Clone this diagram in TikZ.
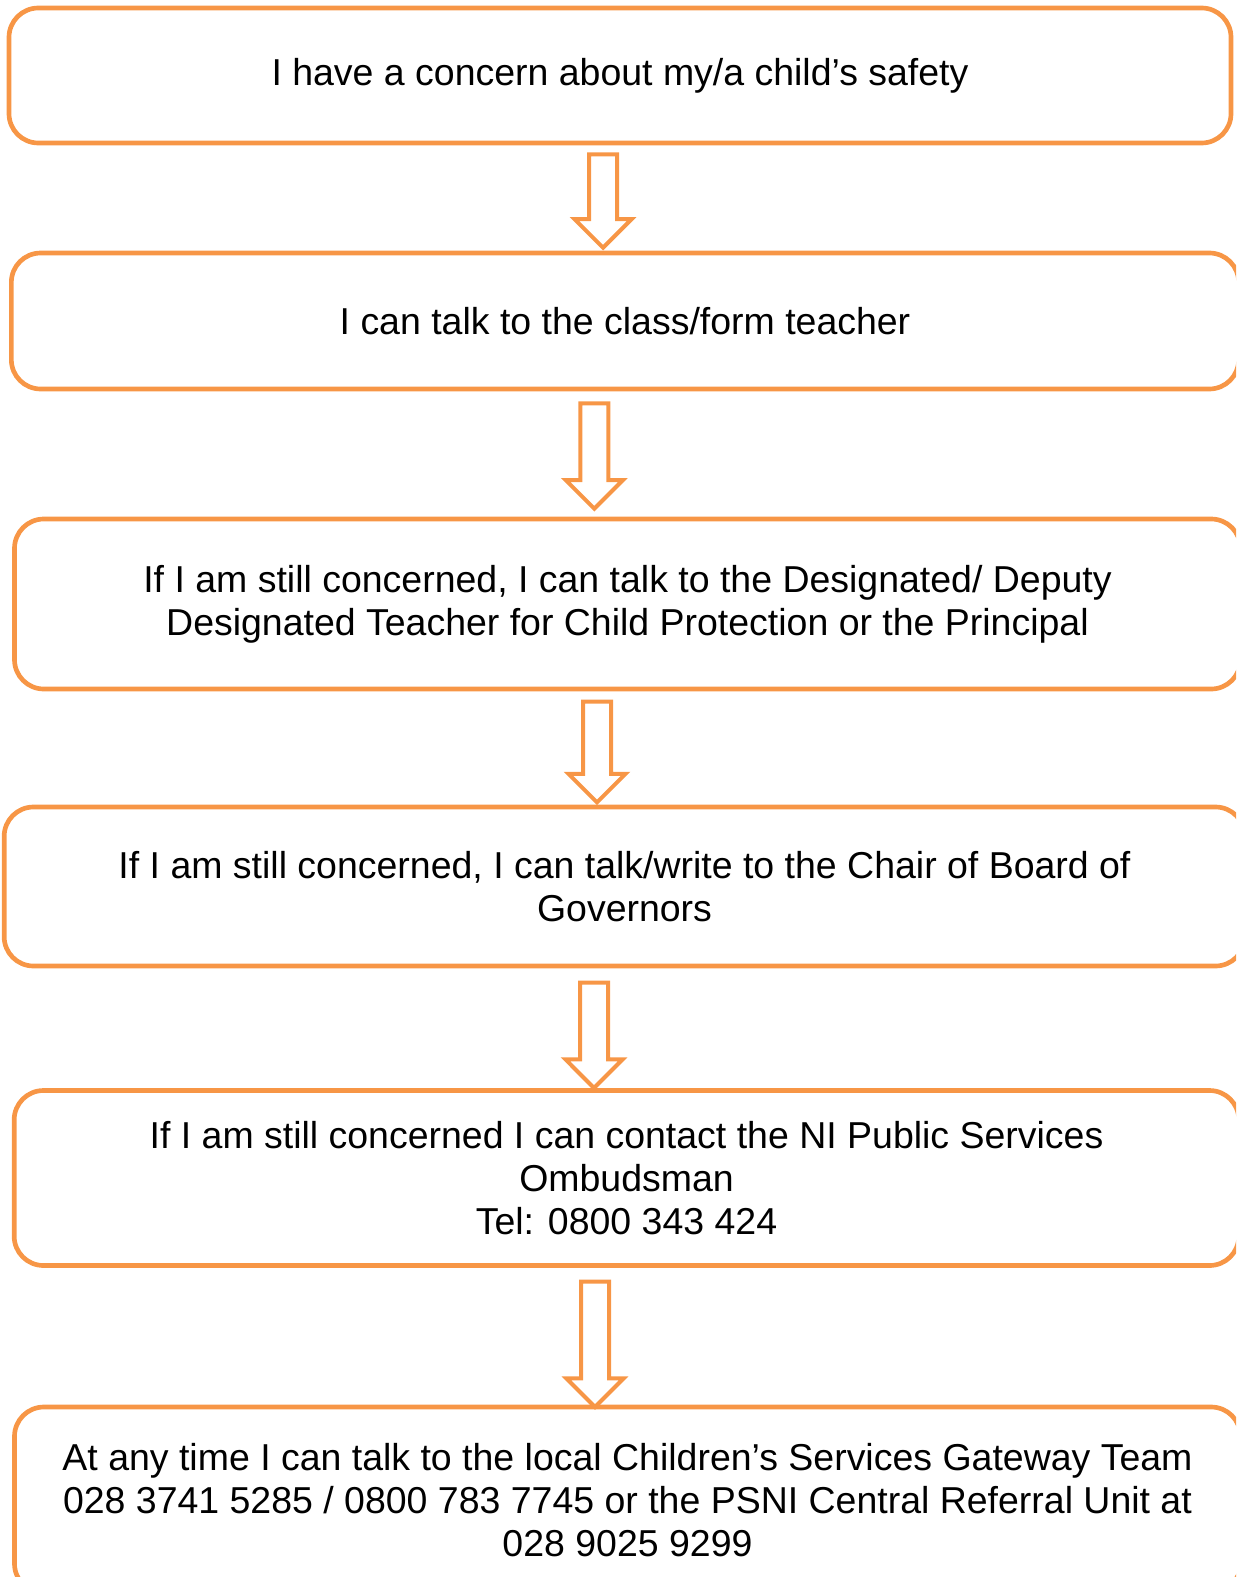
\documentclass[tikz,border=0pt]{standalone}
\usepackage{fontspec}
\setmainfont{Liberation Sans}
\usepackage{xcolor}
\usetikzlibrary{shapes.arrows, calc}
\definecolor{boxorange}{HTML}{F79646}

\begin{document}
\begin{tikzpicture}[x=0.75pt,y=-0.75pt,
    box/.style={draw=boxorange, line width=3.5pt, rounded corners=22pt, align=center,
        font=\fontsize{28.1}{32.25}\selectfont},
    downarrow/.style={single arrow, draw=boxorange, line width=3pt, rotate=-90,
        inner xsep=0pt, inner ysep=9pt, minimum width=0pt,
        single arrow head extend=10.9pt, single arrow tip angle=90, single arrow head indent=0pt}]
    % Area da figura
    \useasboundingbox (0,0) rectangle (1236,1577);
    \clip (0,0) rectangle (1236,1577);
    % Caixas
    \node[box, minimum width=916.5pt, minimum height=101.25pt] (b1) at (620,75.5)
        {I have a concern about my/a child’s safety};
    \node[box, minimum width=920.5pt, minimum height=102pt] (b2) at (625,321)
        {I can talk to the class/form teacher};
    \node[box, minimum width=919.5pt, minimum height=127.5pt] (b3) at (627.5,604)
        {If I am still concerned, I can talk to the Designated/ Deputy\\
         Designated Teacher for Child Protection or the Principal};
    \node[box, minimum width=930.5pt, minimum height=119.25pt] (b4) at (624.5,886.5)
        {If I am still concerned, I can talk/write to the Chair of Board of\\
         Governors};
    \node[box, minimum width=918.5pt, minimum height=131.25pt] (b5) at (626.5,1178)
        {If I am still concerned I can contact the NI Public Services\\
         Ombudsman\\
         Tel: 0800 343 424};
    \node[box, minimum width=919.5pt, minimum height=139.5pt] (b6) at (627.5,1500)
        {At any time I can talk to the local Children’s Services Gateway Team\\
         028 3741 5285 / 0800 783 7745 or the PSNI Central Referral Unit at\\
         028 9025 9299};
    % Setas
    \node[downarrow, minimum height=70pt] (a1) at ($(b1.south)!.5!(b2.north)+(-19.5,-4)$) {};
    \node[downarrow, minimum height=79pt] (a2) at ($(b2.south)!.5!(b3.north)+(-32,-5)$) {};
    \node[downarrow, minimum height=75.5pt] (a3) at ($(b3.south)!.5!(b4.north)+(-29,-3)$) {};
    \node[downarrow, minimum height=79pt] (a4) at ($(b4.south)!.5!(b5.north)+(-31.5,0)$) {};
    \node[downarrow, minimum height=94pt] (a5) at ($(b5.south)!.5!(b6.north)+(-32,1)$) {};
\end{tikzpicture}
\end{document}
